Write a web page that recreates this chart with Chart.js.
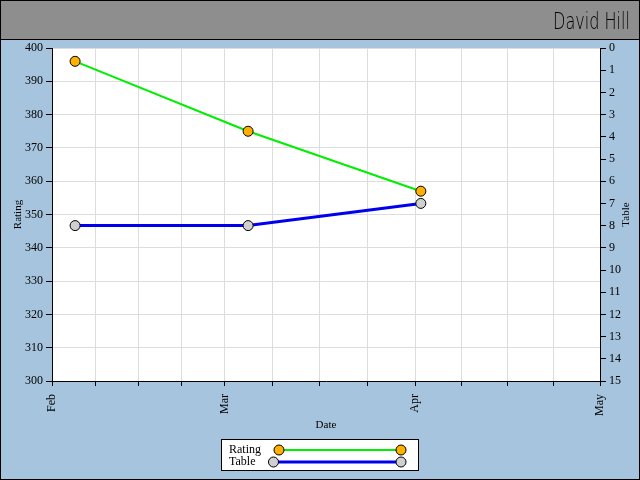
<!DOCTYPE html>
<html>
<head>
<meta charset="utf-8">
<script src="https://cdn.jsdelivr.net/npm/chart.js@4.4.1/dist/chart.umd.min.js"></script>
<style>
  html, body { margin: 0; padding: 0; background: #a6c4dd; }
  #wrap { width: 640px; height: 480px; }
</style>
</head>
<body>
<div id="wrap"><canvas id="c" width="640" height="480"></canvas></div>
<script>
// months shown on the date axis, and how many days each one spans
const months = ['Feb', 'Mar', 'Apr', 'May'];
const monthDays = [28, 31, 30];

// point positions, in days counted from 1 Feb
const dayOffsets = [3.75, 31.85, 59.9];
const rating = [396, 375, 357];
const table = [8, 8, 7];

const chartTitle = 'David Hill';

const FONT = '"Liberation Serif", serif';
const BG = '#a6c4dd';

// month start positions and quarter-month tick positions
let monthStart = [0];
for (let i = 0; i < monthDays.length; i++) monthStart.push(monthStart[i] + monthDays[i]);
let xTicks = [];
for (let i = 0; i < monthDays.length; i++){
    for (let k = 0; k < 4; k++) xTicks.push(monthStart[i] + k * monthDays[i] / 4);
}
xTicks.push(monthStart[monthStart.length - 1]);

const frame = {
    id: 'frame',
    beforeDraw: (chart) => {
        const {ctx, chartArea: a} = chart;
        ctx.save();
        ctx.fillStyle = BG;
        ctx.fillRect(0, 0, chart.width, chart.height);
        ctx.fillStyle = '#8e8e8e';
        ctx.fillRect(0, 0, chart.width, 39);
        ctx.fillStyle = '#000';
        ctx.fillRect(0, 39, chart.width, 1);
        ctx.strokeStyle = '#000';
        ctx.lineWidth = 1;
        ctx.strokeRect(0.5, 0.5, chart.width - 1, chart.height - 1);
        ctx.fillStyle = '#fff';
        ctx.fillRect(a.left, a.top, a.right - a.left, a.bottom - a.top);
        ctx.restore();
    },
    afterDraw: (chart) => {
        const {ctx, chartArea: a} = chart;
        ctx.save();
        // header title, squeezed to look like the narrow hand-drawn face
        ctx.save();
        ctx.fillStyle = '#000';
        ctx.font = '300 23px "DejaVu Sans", sans-serif';
        ctx.textAlign = 'right';
        ctx.textBaseline = 'alphabetic';
        let tw = ctx.measureText(chartTitle).width;
        ctx.translate(630, 29);
        ctx.scale(77 / tw, 1);
        ctx.fillText(chartTitle, 0, 0);
        ctx.restore();

        // axis titles
        ctx.fillStyle = '#000';
        ctx.font = '11px ' + FONT;
        ctx.textAlign = 'center';
        ctx.textBaseline = 'middle';
        let cy = (a.top + a.bottom) / 2;
        ctx.save();
        ctx.translate(18, cy);
        ctx.rotate(-Math.PI / 2);
        ctx.fillText('Rating', 0, 0);
        ctx.restore();
        ctx.save();
        ctx.translate(626, cy);
        ctx.rotate(-Math.PI / 2);
        ctx.fillText('Table', 0, 0);
        ctx.restore();
        ctx.fillText('Date', (a.left + a.right) / 2, 425);

        // legend
        const lx = 221, ly = 439, lw = 197, lh = 31;
        ctx.fillStyle = '#fff';
        ctx.fillRect(lx, ly, lw, lh);
        ctx.strokeStyle = '#000';
        ctx.lineWidth = 1;
        ctx.strokeRect(lx + 0.5, ly + 0.5, lw, lh);
        const rows = chart.data.datasets;
        rows.forEach((ds, i) => {
            let y = 450 + i * 12;
            ctx.fillStyle = '#000';
            ctx.font = '12px ' + FONT;
            ctx.textAlign = 'left';
            ctx.textBaseline = 'middle';
            ctx.fillText(ds.label, 229, y);
            let x0 = 229 + ctx.measureText(ds.label).width + 18;
            let x1 = 401;
            ctx.strokeStyle = ds.borderColor;
            ctx.lineWidth = ds.borderWidth;
            ctx.beginPath();
            ctx.moveTo(x0, y);
            ctx.lineTo(x1, y);
            ctx.stroke();
            [x0, x1].forEach(px => {
                ctx.beginPath();
                ctx.arc(px, y, 5, 0, Math.PI * 2);
                ctx.fillStyle = ds.pointBackgroundColor;
                ctx.fill();
                ctx.strokeStyle = '#000';
                ctx.lineWidth = 1;
                ctx.stroke();
            });
        });
        ctx.restore();
    }
};

const config = {
    type: 'line',
    data: {
        datasets: [
            {
                label: 'Rating',
                data: dayOffsets.map((d, i) => ({x: d, y: rating[i]})),
                borderColor: '#00ee00',
                borderWidth: 2,
                pointBackgroundColor: '#ffb000',
                pointBorderColor: '#000',
                pointBorderWidth: 1,
                pointRadius: 5,
                yAxisID: 'y'
            },
            {
                label: 'Table',
                data: dayOffsets.map((d, i) => ({x: d, y: table[i]})),
                borderColor: '#0000ee',
                borderWidth: 3,
                pointBackgroundColor: '#d0d0d0',
                pointBorderColor: '#000',
                pointBorderWidth: 1,
                pointRadius: 5,
                yAxisID: 'y1'
            }
        ]
    },
    options: {
        responsive: false,
        animation: false,
        events: [],
        layout: { padding: { top: 48, left: 0, right: 0, bottom: 0 } },
        scales: {
            x: {
                type: 'linear',
                min: 0,
                max: monthStart[monthStart.length - 1],
                afterBuildTicks: (s) => { s.ticks = xTicks.map(v => ({value: v})); },
                afterFit: (s) => { s.height = 99; },
                ticks: {
                    autoSkip: false,
                    minRotation: 90,
                    maxRotation: 90,
                    padding: 8,
                    color: '#000',
                    font: { family: FONT, size: 12 },
                    callback: (v) => {
                        let i = monthStart.indexOf(v);
                        return i >= 0 ? months[i] : '';
                    }
                },
                grid: { color: '#dddddd', tickColor: '#000', tickLength: 5 },
                border: { color: '#000', width: 1 }
            },
            y: {
                position: 'left',
                min: 300,
                max: 400,
                afterFit: (s) => { s.width = 52; },
                ticks: { stepSize: 10, padding: 3, color: '#000', font: { family: FONT, size: 12 } },
                grid: { color: '#dddddd', tickColor: '#000', tickLength: 6 },
                border: { color: '#000', width: 1 }
            },
            y1: {
                position: 'right',
                min: 0,
                max: 15,
                reverse: true,
                afterFit: (s) => { s.width = 40; },
                ticks: { stepSize: 1, padding: 3, color: '#000', font: { family: FONT, size: 12 } },
                grid: { drawOnChartArea: false, tickColor: '#000', tickLength: 6 },
                border: { color: '#000', width: 1 }
            }
        },
        plugins: {
            legend: { display: false },
            title: { display: false },
            tooltip: { enabled: false }
        }
    },
    plugins: [frame]
};

new Chart(document.getElementById('c'), config);
</script>
</body>
</html>
